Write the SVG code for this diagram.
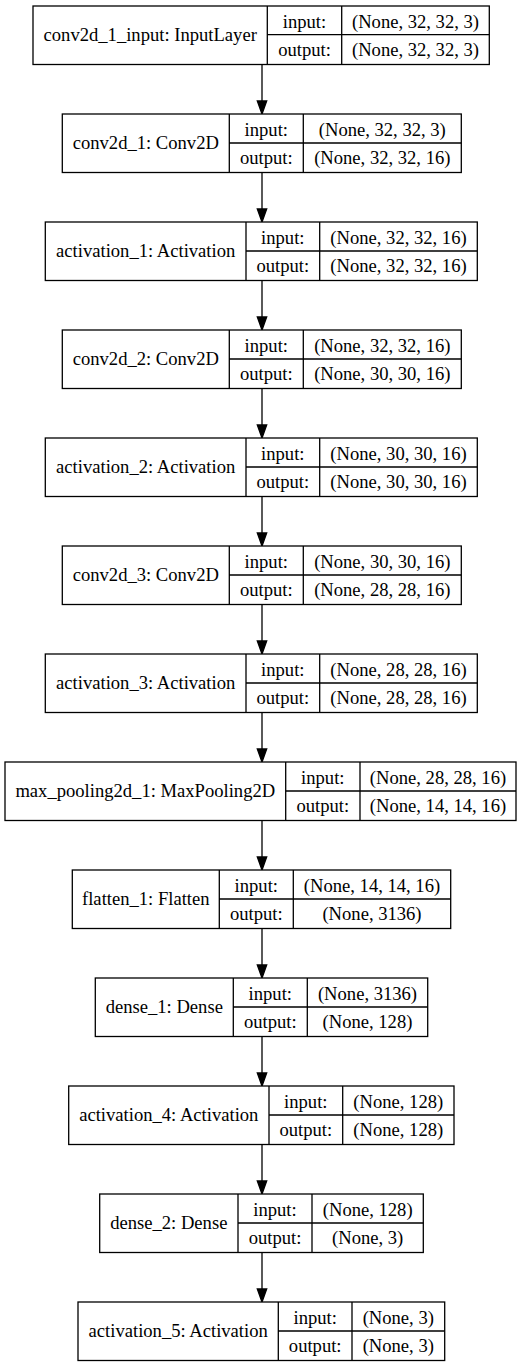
<svg xmlns="http://www.w3.org/2000/svg" width="525" height="1367" viewBox="0 0 525 1367">
<style>
.b{fill:#fff;stroke:#000;stroke-width:1.3}
.l{fill:none;stroke:#000;stroke-width:1.3}
text{font-family:"Liberation Serif","Times New Roman",serif;font-size:18.6px;fill:#000;text-anchor:middle}
.e{stroke:#000;stroke-width:1.3;fill:none}
.h{fill:#000;stroke:#000;stroke-width:1.3}
</style>
<rect width="525" height="1367" fill="#fff"/>
<g id="edges">
<line class="e" x1="262" y1="64.5" x2="262" y2="101"/><polygon class="h" points="257.3,101 266.7,101 262,114"/>
<line class="e" x1="262" y1="172.5" x2="262" y2="209"/><polygon class="h" points="257.3,209 266.7,209 262,222"/>
<line class="e" x1="262" y1="280.5" x2="262" y2="317"/><polygon class="h" points="257.3,317 266.7,317 262,330"/>
<line class="e" x1="262" y1="388.5" x2="262" y2="425"/><polygon class="h" points="257.3,425 266.7,425 262,438"/>
<line class="e" x1="262" y1="496.5" x2="262" y2="533"/><polygon class="h" points="257.3,533 266.7,533 262,546"/>
<line class="e" x1="262" y1="604.5" x2="262" y2="641"/><polygon class="h" points="257.3,641 266.7,641 262,654"/>
<line class="e" x1="262" y1="712.5" x2="262" y2="749"/><polygon class="h" points="257.3,749 266.7,749 262,762"/>
<line class="e" x1="262" y1="820.5" x2="262" y2="857"/><polygon class="h" points="257.3,857 266.7,857 262,870"/>
<line class="e" x1="262" y1="928.5" x2="262" y2="965"/><polygon class="h" points="257.3,965 266.7,965 262,978"/>
<line class="e" x1="262" y1="1036.5" x2="262" y2="1073"/><polygon class="h" points="257.3,1073 266.7,1073 262,1086"/>
<line class="e" x1="262" y1="1144.5" x2="262" y2="1181"/><polygon class="h" points="257.3,1181 266.7,1181 262,1194"/>
<line class="e" x1="262" y1="1252.5" x2="262" y2="1289"/><polygon class="h" points="257.3,1289 266.7,1289 262,1302"/>
</g>

<g id="n1" transform="translate(0,6)">
<rect class="b" x="33" y="0" width="456.3" height="58.5"/>
<path class="l" d="M267.3,0V58.5M341.7,0V58.5M267.3,28.7H489.3"/>
<text x="150.2" y="35">conv2d_1_input: InputLayer</text>
<text x="304.5" y="21.5">input:</text><text x="304.5" y="50">output:</text>
<text x="415.5" y="21.5">(None, 32, 32, 3)</text><text x="415.5" y="50">(None, 32, 32, 3)</text>
</g>

<g id="n2" transform="translate(0,114)">
<rect class="b" x="62.3" y="0" width="399" height="58.5"/>
<path class="l" d="M229.3,0V58.5M303.3,0V58.5M229.3,29H461.3"/>
<text x="145.8" y="35">conv2d_1: Conv2D</text>
<text x="266.3" y="21.5">input:</text><text x="266.3" y="50">output:</text>
<text x="382.3" y="21.5">(None, 32, 32, 3)</text><text x="382.3" y="50">(None, 32, 32, 16)</text>
</g>

<g id="n3" transform="translate(0,222)">
<rect class="b" x="45.3" y="0" width="432" height="58.5"/>
<path class="l" d="M246,0V58.5M319.7,0V58.5M246,29H477.3"/>
<text x="145.7" y="35">activation_1: Activation</text>
<text x="282.8" y="21.5">input:</text><text x="282.8" y="50">output:</text>
<text x="398.5" y="21.5">(None, 32, 32, 16)</text><text x="398.5" y="50">(None, 32, 32, 16)</text>
</g>

<g id="n4" transform="translate(0,330)">
<rect class="b" x="62.3" y="0" width="399" height="58.5"/>
<path class="l" d="M229.3,0V58.5M303.3,0V58.5M229.3,29H461.3"/>
<text x="145.8" y="35">conv2d_2: Conv2D</text>
<text x="266.3" y="21.5">input:</text><text x="266.3" y="50">output:</text>
<text x="382.3" y="21.5">(None, 32, 32, 16)</text><text x="382.3" y="50">(None, 30, 30, 16)</text>
</g>

<g id="n5" transform="translate(0,438)">
<rect class="b" x="45.3" y="0" width="432" height="58.5"/>
<path class="l" d="M246,0V58.5M319.7,0V58.5M246,29H477.3"/>
<text x="145.7" y="35">activation_2: Activation</text>
<text x="282.8" y="21.5">input:</text><text x="282.8" y="50">output:</text>
<text x="398.5" y="21.5">(None, 30, 30, 16)</text><text x="398.5" y="50">(None, 30, 30, 16)</text>
</g>

<g id="n6" transform="translate(0,546)">
<rect class="b" x="62.3" y="0" width="399" height="58.5"/>
<path class="l" d="M229.3,0V58.5M303.3,0V58.5M229.3,29H461.3"/>
<text x="145.8" y="35">conv2d_3: Conv2D</text>
<text x="266.3" y="21.5">input:</text><text x="266.3" y="50">output:</text>
<text x="382.3" y="21.5">(None, 30, 30, 16)</text><text x="382.3" y="50">(None, 28, 28, 16)</text>
</g>

<g id="n7" transform="translate(0,654)">
<rect class="b" x="45.3" y="0" width="432" height="58.5"/>
<path class="l" d="M246,0V58.5M319.7,0V58.5M246,29H477.3"/>
<text x="145.7" y="35">activation_3: Activation</text>
<text x="282.8" y="21.5">input:</text><text x="282.8" y="50">output:</text>
<text x="398.5" y="21.5">(None, 28, 28, 16)</text><text x="398.5" y="50">(None, 28, 28, 16)</text>
</g>

<g id="n8" transform="translate(0,762)">
<rect class="b" x="5" y="0" width="511" height="58.5"/>
<path class="l" d="M285.7,0V58.5M360,0V58.5M285.7,29H516"/>
<text x="145.3" y="35">max_pooling2d_1: MaxPooling2D</text>
<text x="322.8" y="21.5">input:</text><text x="322.8" y="50">output:</text>
<text x="438" y="21.5">(None, 28, 28, 16)</text><text x="438" y="50">(None, 14, 14, 16)</text>
</g>

<g id="n9" transform="translate(0,870)">
<rect class="b" x="72.3" y="0" width="378.4" height="58.5"/>
<path class="l" d="M219.3,0V58.5M293.3,0V58.5M219.3,29H450.7"/>
<text x="145.8" y="35">flatten_1: Flatten</text>
<text x="256.3" y="21.5">input:</text><text x="256.3" y="50">output:</text>
<text x="372" y="21.5">(None, 14, 14, 16)</text><text x="372" y="50">(None, 3136)</text>
</g>

<g id="n10" transform="translate(0,978)">
<rect class="b" x="95.3" y="0" width="332.4" height="58.5"/>
<path class="l" d="M233.3,0V58.5M307.3,0V58.5M233.3,29H427.7"/>
<text x="164.3" y="35">dense_1: Dense</text>
<text x="270.3" y="21.5">input:</text><text x="270.3" y="50">output:</text>
<text x="367.5" y="21.5">(None, 3136)</text><text x="367.5" y="50">(None, 128)</text>
</g>

<g id="n11" transform="translate(0,1086)">
<rect class="b" x="68.7" y="0" width="385.3" height="58.5"/>
<path class="l" d="M269,0V58.5M342.7,0V58.5M269,29H454"/>
<text x="168.8" y="35">activation_4: Activation</text>
<text x="305.8" y="21.5">input:</text><text x="305.8" y="50">output:</text>
<text x="398.3" y="21.5">(None, 128)</text><text x="398.3" y="50">(None, 128)</text>
</g>

<g id="n12" transform="translate(0,1194)">
<rect class="b" x="99.7" y="0" width="323.6" height="58.5"/>
<path class="l" d="M238,0V58.5M312,0V58.5M238,29H423.3"/>
<text x="168.8" y="35">dense_2: Dense</text>
<text x="275" y="21.5">input:</text><text x="275" y="50">output:</text>
<text x="367.7" y="21.5">(None, 128)</text><text x="367.7" y="50">(None, 3)</text>
</g>

<g id="n13" transform="translate(0,1302)">
<rect class="b" x="78" y="0" width="366.7" height="58.5"/>
<path class="l" d="M278.3,0V58.5M352,0V58.5M278.3,29H444.7"/>
<text x="178.2" y="35">activation_5: Activation</text>
<text x="315.2" y="21.5">input:</text><text x="315.2" y="50">output:</text>
<text x="398.3" y="21.5">(None, 3)</text><text x="398.3" y="50">(None, 3)</text>
</g>
</svg>
